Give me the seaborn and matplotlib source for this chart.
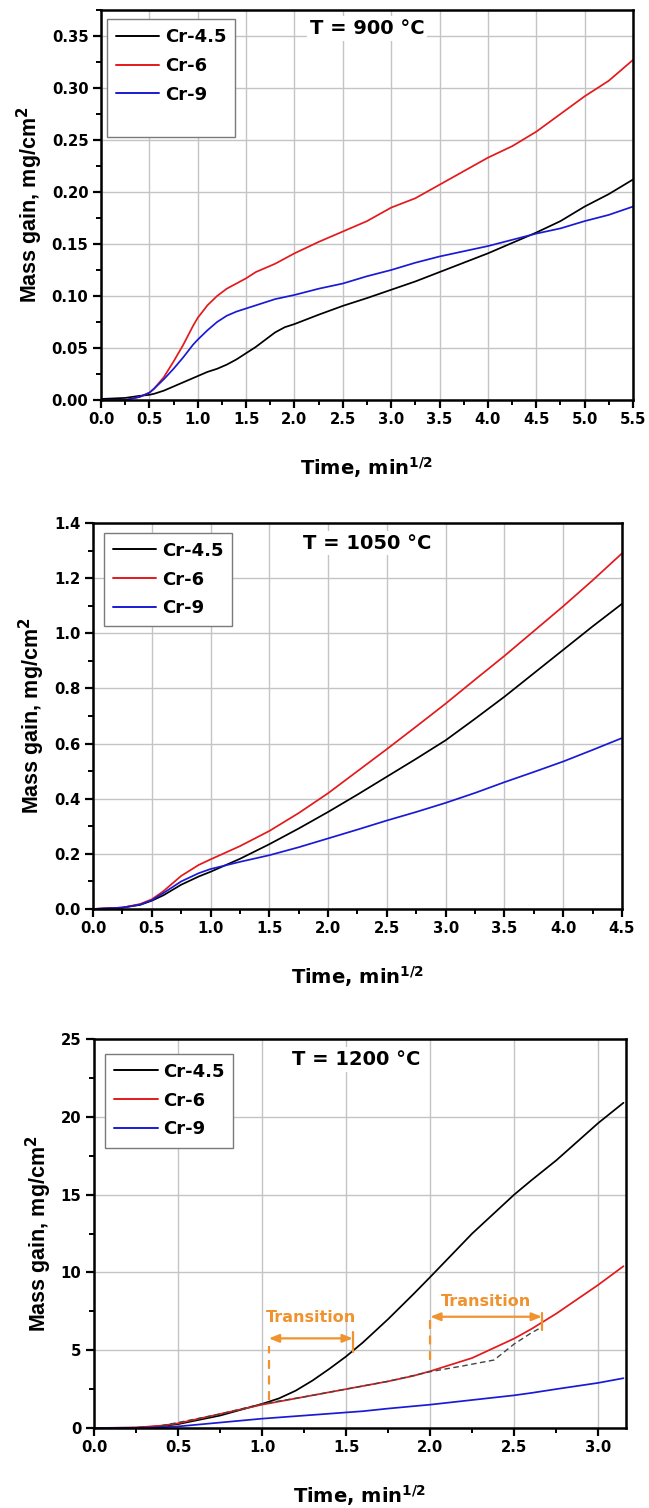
import numpy as np
import pandas as pd
import matplotlib
matplotlib.use("Agg")
import matplotlib.pyplot as plt
from matplotlib.lines import Line2D
from matplotlib.ticker import MultipleLocator
import seaborn as sns

# ---------------- data ----------------
series_names = ["Cr-4.5", "Cr-6", "Cr-9"]
series_colors = ["#000000", "#E3191C", "#1A1AD6"]

# Panel 1: T = 900 C
t900 = [0.0, 0.25, 0.4, 0.5, 0.55, 0.65, 0.75, 0.85, 0.95, 1.0, 1.1, 1.2, 1.3, 1.4, 1.5, 1.6,
        1.7, 1.8, 1.9, 2.0, 2.25, 2.5, 2.75, 3.0, 3.25, 3.5, 3.75, 4.0, 4.25, 4.5, 4.75, 5.0,
        5.25, 5.5]
m900_cr45 = [0.001, 0.002, 0.004, 0.005, 0.006, 0.009, 0.013, 0.017, 0.021, 0.023, 0.027,
             0.030, 0.034, 0.039, 0.045, 0.051, 0.058, 0.065, 0.070, 0.073, 0.082, 0.0905,
             0.098, 0.106, 0.114, 0.123, 0.132, 0.141, 0.151, 0.161, 0.172, 0.186, 0.198, 0.212]
m900_cr6 = [0.0, 0.0, 0.003, 0.007, 0.011, 0.022, 0.037, 0.053, 0.071, 0.079, 0.091, 0.100,
            0.107, 0.112, 0.117, 0.123, 0.127, 0.131, 0.136, 0.141, 0.152, 0.162, 0.172,
            0.185, 0.194, 0.207, 0.220, 0.233, 0.244, 0.258, 0.275, 0.292, 0.307, 0.327]
m900_cr9 = [0.0, 0.0, 0.003, 0.007, 0.011, 0.020, 0.030, 0.041, 0.053, 0.058, 0.067, 0.075,
            0.081, 0.085, 0.088, 0.091, 0.094, 0.097, 0.099, 0.101, 0.107, 0.112, 0.119,
            0.125, 0.132, 0.138, 0.143, 0.148, 0.154, 0.160, 0.165, 0.172, 0.178, 0.186]

# Panel 2: T = 1050 C
t1050 = [0.0, 0.25, 0.4, 0.5, 0.6, 0.75, 0.9, 1.0, 1.25, 1.5, 1.75, 2.0, 2.25, 2.5, 2.75, 3.0,
         3.25, 3.5, 3.75, 4.0, 4.25, 4.5]
m1050_cr45 = [0.0, 0.005, 0.015, 0.03, 0.05, 0.088, 0.118, 0.135, 0.182, 0.235, 0.292, 0.352,
              0.415, 0.48, 0.545, 0.612, 0.69, 0.77, 0.855, 0.94, 1.025, 1.107]
m1050_cr6 = [0.0, 0.005, 0.018, 0.035, 0.065, 0.12, 0.16, 0.18, 0.228, 0.283, 0.348, 0.42,
             0.5, 0.58, 0.662, 0.745, 0.832, 0.918, 1.008, 1.098, 1.192, 1.29]
m1050_cr9 = [0.0, 0.005, 0.016, 0.032, 0.058, 0.1, 0.13, 0.145, 0.171, 0.195, 0.224, 0.256,
             0.288, 0.321, 0.352, 0.385, 0.421, 0.460, 0.497, 0.535, 0.577, 0.62]

# Panel 3: T = 1200 C
t1200 = [0.0, 0.25, 0.4, 0.5, 0.75, 1.0, 1.1, 1.2, 1.3, 1.4, 1.5, 1.6, 1.75, 1.9, 2.0, 2.25,
         2.5, 2.6, 2.75, 3.0, 3.15]
m1200_cr45 = [0.0, 0.02, 0.12, 0.25, 0.8, 1.55, 1.9, 2.4, 3.05, 3.8, 4.6, 5.5, 7.0, 8.6, 9.7,
              12.5, 15.0, 15.9, 17.2, 19.6, 20.9]
m1200_cr6 = [0.0, 0.03, 0.15, 0.3, 0.9, 1.5, 1.7, 1.9, 2.1, 2.3, 2.5, 2.7, 3.0, 3.35, 3.65,
             4.5, 5.75, 6.35, 7.35, 9.2, 10.4]
m1200_cr9 = [0.0, 0.01, 0.05, 0.1, 0.35, 0.6, 0.68, 0.76, 0.84, 0.92, 1.0, 1.08, 1.25, 1.4,
             1.5, 1.8, 2.1, 2.25, 2.5, 2.9, 3.2]
# dashed guide curve (no legend)
t1200_dash = [0.4, 0.5, 0.75, 1.0, 1.25, 1.5, 1.75, 2.0, 2.2, 2.38, 2.5, 2.6, 2.65]
m1200_dash = [0.15, 0.35, 0.9, 1.55, 2.0, 2.5, 3.0, 3.62, 4.0, 4.37, 5.4, 6.1, 6.4]

# transition annotations
trans_x0 = [1.04, 2.0]
trans_x1 = [1.54, 2.665]
trans_y = [5.76, 7.15]
trans_dash_lo = [1.8, 4.4]
trans_dash_hi = [5.3, 6.95]
trans_bar_lo = [4.9, 6.3]
trans_bar_hi = [6.2, 7.4]
trans_text_y = [7.07, 8.12]
trans_label = "Transition"

titles = ["T = 900 °C", "T = 1050 °C", "T = 1200 °C"]
xlabel = r"Time, min$^{\mathbf{1/2}}$"
ylabel = r"Mass gain, mg/cm$^{\mathbf{2}}$"

# ---------------- style ----------------
sns.set_theme(style="ticks")
plt.rcParams["font.family"] = ["DejaVu Sans"]
plt.rcParams["font.weight"] = "bold"
plt.rcParams["axes.labelweight"] = "bold"
plt.rcParams["mathtext.default"] = "bf"
plt.rcParams["mathtext.fontset"] = "dejavusans"
for key in ["text.color", "axes.labelcolor", "xtick.color", "ytick.color",
            "xtick.labelcolor", "ytick.labelcolor"]:
    plt.rcParams[key] = "black"

fig = plt.figure(figsize=(6.49, 15.08), dpi=100)
W, H = 649.0, 1508.0
boxes = [
    (101, 633, 10, 400),
    (93, 622, 523, 909),
    (94, 626, 1039, 1428),
]
xlims = [(0, 5.5), (0, 4.5), (0, 3.165)]
ylims = [(0, 0.375), (0, 1.4), (0, 25)]
ymaj = [0.05, 0.2, 5]
ymin = [0.025, 0.1, 2.5]
yfmt = ["{:.2f}", "{:.1f}", "{:.0f}"]
title_pos = [(0.50, 0.953), (0.518, 0.948), (0.493, 0.947)]
leg_anchor = [(0.011, 0.977), (0.021, 0.975), (0.021, 0.962)]

datasets = [
    (t900, [m900_cr45, m900_cr6, m900_cr9]),
    (t1050, [m1050_cr45, m1050_cr6, m1050_cr9]),
    (t1200, [m1200_cr45, m1200_cr6, m1200_cr9]),
]

orange = "#F0922E"

for i, (l, r, t, b) in enumerate(boxes):
    ax = fig.add_axes([l / W, 1 - b / H, (r - l) / W, (b - t) / H])
    tx, ys = datasets[i]
    for name, col, yv in zip(series_names, series_colors, ys):
        df = pd.DataFrame({"x": tx, "y": yv})
        sns.lineplot(data=df, x="x", y="y", ax=ax, color=col, linewidth=1.25,
                     estimator=None, sort=False, label=name, legend=False)
    if i == 2:
        dfd = pd.DataFrame({"x": t1200_dash, "y": m1200_dash})
        sns.lineplot(data=dfd, x="x", y="y", ax=ax, color="#444444", linewidth=1.0,
                     linestyle=(0, (4, 2.5)), estimator=None, sort=False, legend=False)
        for k in range(2):
            ax.plot([trans_x0[k], trans_x0[k]], [trans_dash_lo[k], trans_dash_hi[k]],
                    color=orange, lw=1.6, ls=(0, (4, 3)))
            ax.plot([trans_x1[k], trans_x1[k]], [trans_bar_lo[k], trans_bar_hi[k]],
                    color=orange, lw=1.6)
            ax.annotate("", xy=(trans_x1[k], trans_y[k]), xytext=(trans_x0[k], trans_y[k]),
                        arrowprops=dict(arrowstyle="<|-|>,head_length=0.5,head_width=0.2",
                                        color=orange, lw=1.6, shrinkA=0, shrinkB=0))
            ax.text((trans_x0[k] + trans_x1[k]) / 2, trans_text_y[k], trans_label,
                    color=orange, fontsize=11.5, fontweight="bold", ha="center", va="center")

    ax.set_xlim(*xlims[i])
    ax.set_ylim(*ylims[i])
    ax.xaxis.set_minor_locator(MultipleLocator(0.25))
    ax.yaxis.set_minor_locator(MultipleLocator(ymin[i]))
    xt = np.arange(0, xlims[i][1] + 1e-6, 0.5)
    ax.set_xticks(xt)
    ax.set_xticklabels(["{:.1f}".format(v) for v in xt])
    yt = np.arange(0, ylims[i][1] + 1e-9, ymaj[i])
    ax.set_yticks(yt)
    ax.set_yticklabels([yfmt[i].format(v) for v in yt])
    ax.grid(True, which="major", color="#C4C4C4", linewidth=1.0)
    ax.set_axisbelow(True)
    for s in ax.spines.values():
        s.set_linewidth(1.8)
        s.set_color("black")
    ax.tick_params(which="major", direction="out", length=6, width=1.6, labelsize=10.7,
                   pad=3, top=False, right=False, colors="black")
    ax.tick_params(which="minor", direction="out", length=3.5, width=1.4, top=False,
                   right=False, colors="black")
    for lab in ax.get_xticklabels() + ax.get_yticklabels():
        lab.set_fontweight("bold")
    ax.set_xlabel(xlabel, fontsize=14, fontweight="bold", labelpad=20, color="black")
    ax.set_ylabel(ylabel, fontsize=15.5, fontweight="bold", labelpad=5, color="black",
                  family=["Liberation Sans", "DejaVu Sans"])

    ax.text(title_pos[i][0], title_pos[i][1], titles[i], transform=ax.transAxes,
            fontsize=14, fontweight="bold", ha="center", va="center", color="black",
            bbox=dict(facecolor="white", edgecolor="none", pad=2))

    handles = [Line2D([], [], color=c, lw=1.4) for c in series_colors]
    labels = list(series_names)
    if i == 0:
        handles.append(Line2D([], [], color="none"))
        labels.append(" ")
    leg = ax.legend(handles, labels, loc="upper left", bbox_to_anchor=leg_anchor[i],
                    borderaxespad=0, frameon=True, fancybox=False, framealpha=1,
                    edgecolor="#7A7A7A", handlelength=2.4, handletextpad=0.3,
                    labelspacing=0.6, borderpad=0.5,
                    prop={"weight": "bold", "size": 13})
    leg.get_frame().set_linewidth(1.0)
    for txt in leg.get_texts():
        txt.set_color("black")
    if i == 0:
        leg.get_texts()[3].set_fontsize(4)

fig.savefig("out.png", dpi=100)
